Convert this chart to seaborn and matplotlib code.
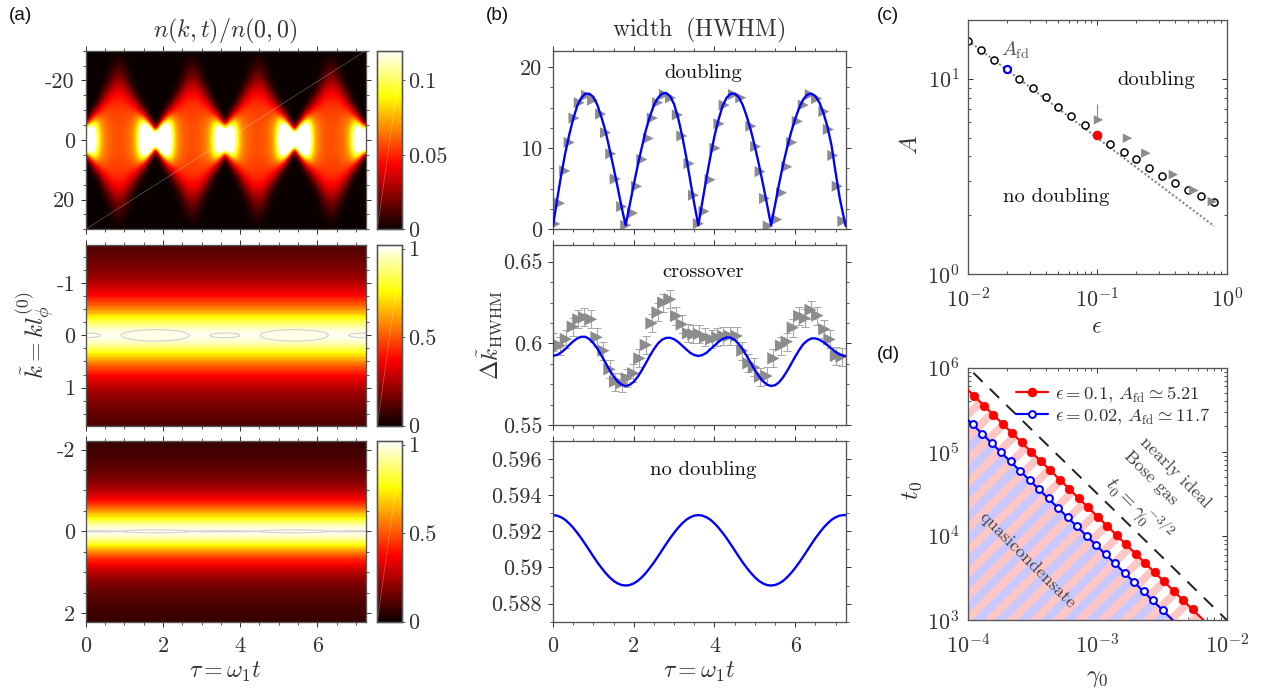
#phase diagram figure: heat maps, widths, thresholds
import numpy as np
import matplotlib
matplotlib.use('Agg')
import matplotlib.pyplot as plt
from matplotlib.lines import Line2D
from matplotlib.patches import Ellipse
from matplotlib.ticker import MultipleLocator, LogLocator, NullFormatter
import seaborn as sns

#panel a, top: n(k,t) x 1000, one lobe tau=0..1.8, rows k=0,2,..30
lobe = np.array([
 [170,170,135,100, 75, 66, 62, 59, 58, 58, 59, 62, 68, 80,125,165,175,175,170],
 [161,168,135, 98, 75, 66, 62, 59, 58, 58, 59, 62, 68, 80,118,165,173,173,119],
 [ 90,130,120, 92, 72, 65, 62, 59, 58, 58, 59, 62, 67, 78,108,155,155, 92,  0],
 [  3, 60, 85, 80, 68, 63, 60, 58, 57, 57, 58, 60, 64, 72, 90,100, 65,  9,  0],
 [  0, 10, 45, 60, 60, 60, 58, 56, 56, 56, 56, 58, 59, 64, 65, 50, 18,  0,  0],
 [  0,  0, 15, 35, 50, 54, 55, 55, 54, 54, 55, 54, 53, 50, 35, 20,  1,  0,  0],
 [  0,  0,  3, 12, 32, 44, 50, 52, 52, 52, 51, 48, 42, 33, 15,  4,  0,  0,  0],
 [  0,  0,  0,  3, 16, 31, 41, 46, 47, 47, 46, 40, 30, 15,  5,  0,  0,  0,  0],
 [  0,  0,  0,  1,  7, 19, 30, 38, 41, 41, 38, 28, 16,  5,  1,  0,  0,  0,  0],
 [  0,  0,  0,  0,  2,  9, 19, 28, 33, 33, 28, 17,  7,  2,  0,  0,  0,  0,  0],
 [  0,  0,  0,  0,  0,  4, 10, 18, 24, 24, 18,  9,  3,  0,  0,  0,  0,  0,  0],
 [  0,  0,  0,  0,  0,  1,  6, 12, 17, 17, 12,  6,  1,  0,  0,  0,  0,  0,  0],
 [  0,  0,  0,  0,  0,  0,  3,  7, 11, 11,  7,  3,  0,  0,  0,  0,  0,  0,  0],
 [  0,  0,  0,  0,  0,  0,  1,  4,  6,  6,  4,  1,  0,  0,  0,  0,  0,  0,  0],
 [  0,  0,  0,  0,  0,  0,  0,  1,  3,  3,  1,  0,  0,  0,  0,  0,  0,  0,  0],
 [  0,  0,  0,  0,  0,  0,  0,  0,  1,  1,  0,  0,  0,  0,  0,  0,  0,  0,  0]]) / 1000

#panel a, lower two: k profile (k>=0, step .025), same in both maps
n_prof = np.array([1,.998,.993,.985,.973,.958,.941,.922,.9,.877,.852,.826,.8,.773,.746,.719,.692,.666,.64,.615,
                   .59,.566,.543,.521,.5,.48,.46,.441,.424,.407,.39,.375,.36,.346,.333,.32,.308,.296,.285,.275,
                   .265,.255,.246,.237,.229,.221,.214,.207,.2,.193,.187,.181,.176,.17,.165,.16,.155,.151,.146,.142,
                   .138,.134,.13,.127,.123,.12,.117,.114,.111,.108,.105,.103,.1,.098,.095,.093,.091,.089,.086,.084,
                   .083,.081,.079,.077,.075,.074,.072,.071,.069,.068,.066])
k_prof = np.arange(len(n_prof)) * 0.025
#grey contour lenses: centre tau, half width in tau, half height in k
lens_mid = [(0,.39,.045),(1.8,.88,.11),(3.6,.39,.045),(5.4,.88,.11),(7.2,.39,.045)]
lens_low = [(0,.9,.012),(1.8,.9,.035),(3.6,.9,.012),(5.4,.9,.035),(7.2,.9,.012)]

#panel b
tau_curve = np.r_[np.arange(73) / 10, 7.25]
width_top = [.4,3.6,6.6,9.3,11.6,13.6,15.2,16.2,16.7,16.7,16.3,15.3,13.8,12.1,9.9,7.6,5.2,2.7,.5,
             3.0,5.5,7.9,10.1,12.2,13.9,15.3,16.2,16.7,16.8,16.4,15.4,13.7,11.5,8.9,6.0,3.1,.5,
             3.4,6.3,9.0,11.5,13.5,15.2,16.2,16.7,16.7,16.3,15.3,13.9,12.2,10.2,8.0,5.6,3.1,.5,
             3.0,5.6,8.0,10.1,12.0,13.6,15.0,16.0,16.6,16.7,16.4,15.6,14.3,12.6,10.3,7.0,3.9,1.5,.4]
width_mid = [.5925,.593,.5945,.5965,.599,.6013,.6031,.6041,.6041,.6027,.6002,.5968,.5926,.5882,.5838,.5799,.5768,.5748,.574,
             .5747,.5766,.5797,.5836,.588,.5925,.5966,.6,.6023,.6034,.6035,.6026,.6009,.5987,.5964,.5943,.5929,.5924,
             .5929,.5943,.5965,.5988,.601,.6027,.6037,.6036,.6022,.5997,.5964,.5923,.588,.5838,.58,.577,.5749,.574,
             .5745,.5763,.5794,.5832,.5876,.592,.5961,.5996,.6018,.6031,.6031,.6023,.6008,.5989,.5968,.5948,.5933,.5925,.5924]
width_low = [.5929,.59287,.59278,.59264,.59244,.5922,.59192,.59162,.59129,.59095,.59061,.59028,.58998,.5897,.58946,.58926,.58912,.58903,.589,
             .58903,.58912,.58926,.58946,.5897,.58998,.59028,.59061,.59095,.59129,.59162,.59192,.5922,.59244,.59264,.59278,.59287,.5929,
             .59287,.59278,.59264,.59244,.5922,.59192,.59162,.59129,.59095,.59061,.59028,.58998,.5897,.58946,.58926,.58912,.58903,.589,
             .58903,.58912,.58926,.58946,.5897,.58998,.59028,.59061,.59095,.59129,.59162,.59192,.5922,.59244,.59264,.59278,.59287,.5929,.5929]
tau_pts_top = [.05,.16,.29,.40,.52,.65,.83,.98,1.18,1.30,1.43,1.54,1.70,1.80,1.97,2.07,2.20,2.36,2.46,2.59,2.76,2.91,3.08,3.19,3.37,3.48,
               3.60,3.74,3.89,4.01,4.11,4.24,4.47,4.65,4.90,5.02,5.13,5.24,5.33,5.54,5.66,5.79,5.91,6.05,6.20,6.37,6.53,6.71,6.82,6.93,7.04,7.18]
pts_top = [.66,3.2,7.2,10.7,13.7,15.6,16.5,15.9,14.2,11.9,9.3,6.2,2.8,.5,2.0,5.3,8.6,11.2,13.7,15.6,16.6,16.2,14.1,11.5,8.1,4.2,
           .7,2.2,6.1,10.0,13.0,15.3,16.6,16.2,12.7,10.2,7.1,3.8,.4,1.2,4.5,7.7,10.7,13.3,15.3,16.6,16.1,14.5,12.3,9.1,5.3,1.0]
tau_pts_mid = [0,.17,.32,.49,.63,.77,.94,1.08,1.25,1.40,1.54,1.70,1.83,1.99,2.14,2.30,2.44,2.59,2.73,2.90,3.05,3.19,3.35,3.48,
               3.62,3.77,3.93,4.07,4.22,4.38,4.55,4.69,4.84,4.98,5.13,5.29,5.46,5.65,5.79,5.94,6.10,6.24,6.38,6.55,6.72,6.85,7.01,7.15]
pts_mid = [.6007,.5987,.6027,.6103,.6148,.616,.6148,.6038,.5956,.5842,.5767,.5757,.5787,.5818,.5909,.5991,.6123,.619,.625,.627,.6168,.6117,.6062,.6056,
           .6058,.6038,.6027,.6038,.6046,.6046,.6046,.5956,.5879,.5854,.5797,.5801,.5909,.5987,.6011,.6097,.6168,.6154,.6205,.617,.6087,.6025,.5924,.592]
err_mid = 0.0055

#panel c
eps_afd = [.01,.0125,.016,.02,.025,.0316,.04,.05,.063,.08,.1,.125,.16,.2,.25,.316,.4,.5,.63,.8]
afd = [15.7,14.1,12.5,11.2,10.0,8.92,8.05,7.18,6.41,5.79,5.16,4.66,4.21,3.86,3.48,3.19,2.92,2.70,2.50,2.35]
eps_tri = [.102,.171,.237,.387,.558,.774]
a_tri = [6.16,4.96,4.16,3.23,2.68,2.35]
eps_dot = [.01,.8]
a_dot = [15.7,1.76]

#panel d
gam_red_line = [1e-4,6.6e-3]
t0_red_line = [5.43e5,1e3]
gam_blue_line = [1e-4,3.82e-3]
t0_blue_line = [2.39e5,1e3]
gam_dash = [1.1e-4,1e-2]
t0_dash = [8.7e5,1e3]
gam_red = [1.12e-4,1.33e-4,1.57e-4,1.86e-4,2.2e-4,2.61e-4,3.09e-4,3.66e-4,4.33e-4,5.13e-4,6.07e-4,7.19e-4,8.51e-4,1.01e-3,1.19e-3,1.41e-3,1.67e-3,1.98e-3,2.34e-3,2.77e-3,3.28e-3,3.89e-3,4.6e-3,5.45e-3]
t0_red = [4.58e5,3.55e5,2.76e5,2.14e5,1.66e5,1.29e5,1.0e5,7.76e4,6.02e4,4.67e4,3.63e4,2.81e4,2.18e4,1.69e4,1.31e4,1.02e4,7.93e3,6.15e3,4.77e3,3.70e3,2.87e3,2.23e3,1.73e3,1.34e3]
gam_blue = [1.09e-4,1.29e-4,1.53e-4,1.81e-4,2.14e-4,2.54e-4,3.0e-4,3.56e-4,4.21e-4,4.99e-4,5.91e-4,7.0e-4,8.28e-4,9.81e-4,1.16e-3,1.37e-3,1.63e-3,1.93e-3,2.28e-3,2.7e-3,3.2e-3]
t0_blue = [2.12e5,1.65e5,1.28e5,9.91e4,7.69e4,5.97e4,4.63e4,3.59e4,2.79e4,2.16e4,1.68e4,1.30e4,1.01e4,7.85e3,6.09e3,4.73e3,3.67e3,2.85e3,2.21e3,1.71e3,1.33e3]

#hatch spacing goes with dpi, so dpi is set by the stripes and Z scales point sizes back
W, H, DPI = 1265, 692, 136
Z = 120 / DPI
TAU_MAX = 7.25
INK = '#333333'
GREY = '#8c8c8c'
BLUE = '#0000ff'
RED = '#ff0000'
TICK = 13.3 * Z

sns.set_theme(style='ticks')
plt.rcParams['font.family'] = ['cmr10', 'DejaVu Serif']
plt.rcParams['mathtext.fontset'] = 'cm'
plt.rcParams['axes.formatter.use_mathtext'] = True
plt.rcParams['axes.unicode_minus'] = False
plt.rcParams['hatch.linewidth'] = 4.2
plt.rcParams['text.color'] = INK
plt.rcParams['axes.labelcolor'] = INK

fig = plt.figure(figsize=(W / DPI, H / DPI), dpi=DPI)

def box(x0, y0, x1, y1):
    return fig.add_axes([x0 / W, 1 - y1 / H, (x1 - x0) / W, (y1 - y0) / H])

def put(x, y, s, fontsize=12, **kw):
    kw.setdefault('ha', 'center')
    kw.setdefault('va', 'center')
    fig.text(x / W, 1 - y / H, s, fontsize=fontsize * Z, **kw)

def frame(ax):
    for sp in ax.spines.values():
        sp.set_visible(True)
        sp.set_linewidth(.8 * Z)
        sp.set_color('#555555')

def style(ax, direction='out', size=TICK):
    frame(ax)
    ax.tick_params(which='major', length=3 * Z, width=.6 * Z, direction=direction, top=True, right=True,
                   labelsize=size, colors=INK, pad=3.5 * Z)
    ax.tick_params(which='minor', length=1.6 * Z, width=.5 * Z, direction=direction, top=True, right=True, colors=INK)
    ax.grid(False)

def diagonal(ax):
    ax.plot([0, 1], [0, 1], transform=ax.transAxes, color='w', lw=.35 * Z, alpha=.4)

def bar_style(cax, ticks, labels):
    cax.set_yticks(ticks)
    cax.set_yticklabels(labels)
    cax.tick_params(length=1.5 * Z, width=.5 * Z, labelsize=TICK, colors=INK, pad=2 * Z, right=True, direction='out')
    frame(cax)
    diagonal(cax)

#(a) top, smoothed by imshow
ax_a1 = box(85.7, 50.7, 365.7, 229.3)
cax_a1 = box(377.3, 50.7, 402.3, 229.3)
half = np.vstack([lobe[::-1], lobe[1:]])
table = np.hstack([half, half[:, ::-1][:, 1:], half[:, 1:], half[:, ::-1][:, 1:]])
im = ax_a1.imshow(table, cmap='hot', vmin=0, vmax=.12, aspect='auto', interpolation='bicubic',
                  extent=(-.05, 7.25, 31, -31))
ax_a1.set_xlim(0, TAU_MAX)
ax_a1.set_ylim(30, -30)
ax_a1.set_xticks([0, 2, 4, 6])
ax_a1.xaxis.set_minor_locator(MultipleLocator(.5))
ax_a1.set_yticks([-20, 0, 20])
ax_a1.set_yticklabels(['-20', '0', '20'])
ax_a1.yaxis.set_minor_locator(MultipleLocator(5))
style(ax_a1)
ax_a1.tick_params(labelbottom=False)
diagonal(ax_a1)
fig.colorbar(im, cax=cax_a1)
bar_style(cax_a1, [0, .05, .1], ['0', '0.05', '0.1'])

#(a) lower two maps
def profile_map(ax, cax, k_edge, k_cut, ticks, labels, minor, lens):
    keep = k_prof <= k_cut + 1e-9
    rows = np.r_[n_prof[keep][::-1], n_prof[keep][1:]]
    step = .025
    top = k_prof[keep][-1]
    sns.heatmap(np.tile(rows[:, None], (1, 2)), ax=ax, cbar_ax=cax, cmap='hot', vmin=0, vmax=1.02,
                xticklabels=False, yticklabels=False)
    kc = lambda k: (np.asarray(k) + top + step / 2) / step
    xc = lambda t: np.asarray(t) / TAU_MAX * 2
    ax.set_xlim(0, 2)
    ax.set_ylim(kc(k_edge), kc(-k_edge))
    ax.set_xticks(xc([0, 2, 4, 6]))
    ax.set_xticklabels(['0', '2', '4', '6'], rotation=0)
    ax.set_xticks(xc(np.arange(0, 7.5, .5)), minor=True)
    ax.set_yticks(kc(ticks))
    ax.set_yticklabels(labels, rotation=0)
    ax.set_yticks(kc(minor), minor=True)
    style(ax)
    for tc, dt, dk in lens:
        ax.add_patch(Ellipse((xc(tc), kc(0)), 2 * xc(dt), 2 * dk / step, fc='none', ec='#d2d2d2', lw=.7 * Z))
    bar_style(cax, [0, .5, 1], ['0', '0.5', '1'])

ax_a2 = box(85.7, 245, 365.7, 425.7)
cax_a2 = box(377.3, 245, 402.3, 425.7)
profile_map(ax_a2, cax_a2, 1.73, 1.75, [-1, 0, 1], ['-1', '0', '1'],
            np.arange(-1.5, 1.75, .25), lens_mid)
ax_a2.tick_params(labelbottom=False)

ax_a3 = box(85.7, 441, 365.7, 621.7)
cax_a3 = box(377.3, 441, 402.3, 621.7)
profile_map(ax_a3, cax_a3, 2.21, 2.25, [-2, 0, 2], ['-2', '0', '2'],
            np.arange(-2, 2.5, .5), lens_low)
ax_a3.tick_params(which='major', axis='x', pad=6 * Z)

#(b)
tri_kw = dict(marker='>', color=GREY, edgecolor='none', legend=False)
ax_b1 = box(553, 50.7, 845.7, 229.3)
sns.scatterplot(x=tau_pts_top, y=pts_top, ax=ax_b1, s=44 * Z**2, zorder=2, **tri_kw)
sns.lineplot(x=tau_curve, y=width_top, ax=ax_b1, color=BLUE, lw=1.4 * Z, zorder=3)
ax_b1.set_ylim(0, 22)
ax_b1.set_yticks([0, 10, 20])
ax_b1.set_yticklabels(['0', '10', '20'])
ax_b1.yaxis.set_minor_locator(MultipleLocator(2.5))

ax_b2 = box(553, 245.3, 845.7, 425.3)
ax_b2.errorbar(tau_pts_mid, pts_mid, yerr=err_mid, fmt='none', ecolor='#a8a8a8', elinewidth=.7 * Z,
               capsize=2.3 * Z, capthick=.6 * Z, zorder=1)
sns.scatterplot(x=tau_pts_mid, y=pts_mid, ax=ax_b2, s=55 * Z**2, zorder=2, **tri_kw)
sns.lineplot(x=tau_curve, y=width_mid, ax=ax_b2, color=BLUE, lw=1.4 * Z, zorder=3)
ax_b2.set_ylim(.55, .66)
ax_b2.set_yticks([.55, .6, .65])
ax_b2.set_yticklabels(['0.55', '0.6', '0.65'])
ax_b2.yaxis.set_minor_locator(MultipleLocator(.0125))

ax_b3 = box(553, 441, 845.7, 621.7)
sns.lineplot(x=tau_curve, y=width_low, ax=ax_b3, color=BLUE, lw=1.4 * Z)
ax_b3.set_ylim(.587, .597)
ax_b3.set_yticks([.588, .59, .592, .594, .596])
ax_b3.set_yticklabels(['0.588', '0.59', '0.592', '0.594', '0.596'])
ax_b3.yaxis.set_minor_locator(MultipleLocator(.001))

for ax, name, ty in [(ax_b1, 'doubling', 73), (ax_b2, 'crossover', 272), (ax_b3, 'no doubling', 470)]:
    ax.set_xlim(0, TAU_MAX)
    ax.set_xticks([0, 2, 4, 6])
    ax.set_xticklabels(['0', '2', '4', '6'])
    ax.xaxis.set_minor_locator(MultipleLocator(.5))
    style(ax)
    put(703, ty, name, fontsize=12.3, color='#111111')
ax_b1.tick_params(labelbottom=False)
ax_b2.tick_params(labelbottom=False)
ax_b3.tick_params(which='major', axis='x', pad=6 * Z)

#(c)
ax_c = box(968, 20, 1226.7, 274)
ax_c.set_xscale('log')
ax_c.set_yscale('log')
sns.lineplot(x=eps_dot, y=a_dot, ax=ax_c, color=GREY, lw=1.3 * Z, ls=(0, (1, 1)), zorder=1)
sns.scatterplot(x=eps_afd, y=afd, ax=ax_c, s=18 * Z**2, color='white', edgecolor='black', linewidth=.9 * Z, zorder=2, legend=False)
sns.scatterplot(x=[eps_afd[3]], y=[afd[3]], ax=ax_c, s=18 * Z**2, color='white', edgecolor=BLUE, linewidth=1.3 * Z, zorder=3, legend=False)
sns.scatterplot(x=[eps_afd[10]], y=[afd[10]], ax=ax_c, s=28 * Z**2, color=RED, edgecolor=RED, zorder=3, legend=False)
ax_c.vlines(eps_tri[0] - .002, a_tri[0], 7.44, color=GREY, lw=.7 * Z, zorder=2)
sns.scatterplot(x=eps_tri, y=a_tri, ax=ax_c, s=32 * Z**2, zorder=4, **tri_kw)
ax_c.set_xlim(.01, 1)
ax_c.set_ylim(1, 20)
ax_c.yaxis.set_minor_locator(LogLocator(base=10, subs=np.arange(2, 10) * .1, numticks=12))
ax_c.yaxis.set_minor_formatter(NullFormatter())
style(ax_c, direction='in')
ax_c.tick_params(which='major', axis='x', pad=8 * Z)
ax_c.tick_params(which='major', axis='y', pad=5 * Z)
put(1015, 50, r'$A_{\rm fd}$', fontsize=12, color='#555555')
put(1156, 80, 'doubling', fontsize=12.3, color='#111111')
put(1056, 197, 'no doubling', fontsize=12.3, color='#111111')

#(d)
ax_d = box(968, 367.7, 1226.7, 620)
ax_d.set_xscale('log')
ax_d.set_yscale('log')
ax_d.fill_between(gam_blue_line, t0_blue_line, 1e3, color='#c8c8ff', lw=0, zorder=1)
ax_d.fill_between(gam_red_line, t0_red_line, 1e3, facecolor='none', edgecolor='#ffc6c6', hatch='//', lw=0, zorder=2)
sns.lineplot(x=gam_dash, y=t0_dash, ax=ax_d, color='#222222', lw=1.2 * Z, ls=(0, (6.5, 5)), zorder=3)
sns.lineplot(x=gam_red_line, y=t0_red_line, ax=ax_d, color=RED, lw=1.3 * Z, zorder=3)
sns.lineplot(x=gam_blue_line, y=t0_blue_line, ax=ax_d, color=BLUE, lw=1.3 * Z, zorder=3)
sns.scatterplot(x=gam_red, y=t0_red, ax=ax_d, s=27 * Z**2, color=RED, edgecolor=RED, zorder=4, legend=False)
sns.scatterplot(x=gam_blue, y=t0_blue, ax=ax_d, s=17 * Z**2, color='white', edgecolor=BLUE, linewidth=1.2 * Z, zorder=4, legend=False)
ax_d.set_xlim(1e-4, 1e-2)
ax_d.set_ylim(1e3, 1e6)
ax_d.yaxis.set_major_locator(LogLocator(base=10, numticks=5))
ax_d.yaxis.set_minor_locator(LogLocator(base=10, subs=np.arange(2, 10) * .1, numticks=12))
ax_d.yaxis.set_minor_formatter(NullFormatter())
style(ax_d, direction='in')
ax_d.tick_params(which='major', axis='x', pad=8 * Z)
ax_d.tick_params(which='major', axis='y', pad=5 * Z)
handles = [Line2D([], [], color=RED, lw=1.3 * Z, marker='o', ms=4.6 * Z, mfc=RED, mec=RED),
           Line2D([], [], color=BLUE, lw=1.3 * Z, marker='o', ms=4.1 * Z, mfc='white', mec=BLUE, mew=1.2 * Z)]
ax_d.legend(handles, [r'$\epsilon=0.1,\,A_{\rm fd}\simeq5.21$', r'$\epsilon=0.02,\,A_{\rm fd}\simeq11.7$'],
            loc='upper right', bbox_to_anchor=(1.0, 1.0), frameon=False, fontsize=11.2 * Z, handlelength=1.7,
            handletextpad=.35, labelspacing=.1, borderaxespad=.6, borderpad=.3)
put(1028, 560, 'quasicondensate', fontsize=11, rotation=-45, rotation_mode='anchor', color='#444444')
put(1175, 472, 'nearly ideal', fontsize=11, rotation=-45, rotation_mode='anchor', color='#444444')
put(1151, 478, 'Bose gas', fontsize=11, rotation=-45, rotation_mode='anchor', color='#444444')
put(1139, 508, r'$t_0=\gamma_0^{-3/2}$', fontsize=12, rotation=-45, rotation_mode='anchor', color='#444444')

#labels and titles
put(225, 31, r'$n(k,t)/n(0,0)$', fontsize=14.4)
put(699, 30, r'${\rm width\ \ (HWHM)}$', fontsize=14.3)
put(36, 335, r'$\tilde{k}=kl_\phi^{(0)}$', fontsize=15, rotation=90)
put(490, 335, r'$\Delta\tilde{k}_{\rm HWHM}$', fontsize=14, rotation=90)
put(225, 672, r'$\tau=\omega_1 t$', fontsize=14.4)
put(699, 672, r'$\tau=\omega_1 t$', fontsize=14.4)
put(911, 145, r'$A$', fontsize=15, rotation=90)
put(1097, 327, r'$\epsilon$', fontsize=14.4)
put(912, 490, r'$t_0$', fontsize=15, rotation=90)
put(1097, 678, r'$\gamma_0$', fontsize=14.4)
for x, y, s in [(20, 15, '(a)'), (497, 15, '(b)'), (888, 15, '(c)'), (888, 355, '(d)')]:
    put(x, y, s, fontsize=11.3, family='Liberation Sans', color='#111111')

fig.savefig('out.png', dpi=DPI)
